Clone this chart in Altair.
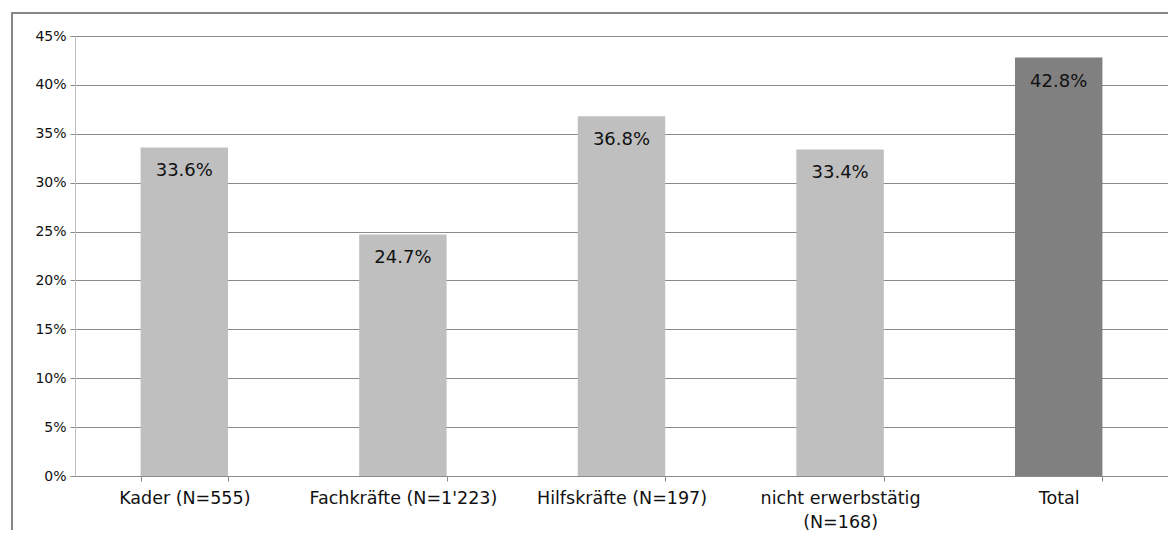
import altair as alt
import pandas as pd

categories = ["Kader (N=555)", "Fachkräfte (N=1'223)", "Hilfskräfte (N=197)",
              "nicht erwerbstätig\n(N=168)", "Total"]
values = [33.6, 24.7, 36.8, 33.4, 42.8]
is_total = ["no", "no", "no", "no", "yes"]
labels = ["33.6%", "24.7%", "36.8%", "33.4%", "42.8%"]

df = pd.DataFrame({
    "cat": categories,
    "val": [v / 100 for v in values],
    "total": is_total,
    "label": labels,
})

FONT = "DejaVu Sans"
GRID = "#8a8a8a"

x_enc = alt.X("cat:N", sort=categories, title=None,
              scale=alt.Scale(paddingInner=0.6, paddingOuter=0.3),
              axis=alt.Axis(labelAngle=0, labelExpr="split(datum.label, '\\n')",
                            tickBand="extent", tickSize=5, tickColor=GRID,
                            domainColor=GRID, labelFont=FONT, labelFontSize=17.5,
                            labelColor="#111111", labelPadding=8, labelLineHeight=24,
                            labelBaseline="top", labelLimit=0, labelOverlap=False,
                            grid=False))
y_enc = alt.Y("val:Q", title=None,
              scale=alt.Scale(domain=[0, 0.45], nice=False),
              axis=alt.Axis(values=[i * 0.05 for i in range(10)], format=".0%",
                            grid=True, gridColor=GRID, gridWidth=1,
                            domainColor="#c0c0c0", tickColor=GRID, tickSize=5,
                            labelFont=FONT, labelFontSize=14, labelColor="#111111",
                            labelPadding=4))

bars = alt.Chart(df).mark_bar().encode(
    x=x_enc, y=y_enc,
    color=alt.Color("total:N", scale=alt.Scale(domain=["no", "yes"], range=["#bfbfbf", "#808080"]),
                    legend=None),
)

text = alt.Chart(df).mark_text(font=FONT, fontSize=18, color="#111111",
                               baseline="middle", dy=24).encode(
    x=alt.X("cat:N", sort=categories), y=alt.Y("val:Q"), text="label:N")

border = alt.Chart(pd.DataFrame({"a": [0]})).mark_rect(
    fill=None, stroke="#868686", strokeWidth=2).encode(
    x=alt.value(-63), x2=alt.value(1130), y=alt.value(-23), y2=alt.value(640))

chart = alt.layer(bars, text, border).properties(
    width=1093, height=440,
    autosize=alt.AutoSizeParams(type="none"),
    padding={"left": 67, "top": 28, "right": 0, "bottom": 54},
).configure_view(stroke=None).configure(background="white")

chart.save("out.html", embed_options={"renderer": "svg", "actions": False})
